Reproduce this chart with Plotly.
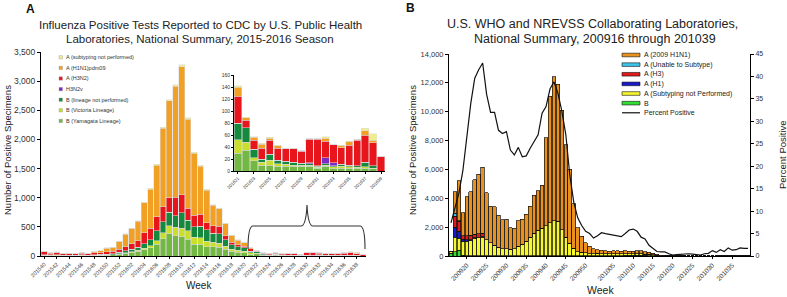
import plotly.graph_objects as go

W, H = 787, 297
def px(x): return x / W
def py(y): return 1 - y / H

FONT = "Liberation Sans, Arial, sans-serif"

# ---------------- Panel A data ----------------
weeks_a = ["201540","201541","201542","201543","201544","201545","201546","201547","201548","201549",
           "201550","201551","201552","201601","201602","201603","201604","201605","201606","201607",
           "201608","201609","201610","201611","201612","201613","201614","201615","201616","201617",
           "201618","201619","201620","201621","201622","201623","201624","201625","201626","201627",
           "201628","201629","201630","201631","201632","201633","201634","201635","201636","201637",
           "201638","201639"]

yamagata = [10,8,8,6,6,7,8,7,10,12,15,18,30,45,60,80,110,140,200,300,380,350,330,290,200,200,160,160,150,120,80,65,55,
            30,35,17,10,10,8,8,8,8,8,5,8,5,5,5,5,5,4,0]
victoria = [3,2,2,2,2,2,2,2,3,3,4,5,8,10,12,15,25,35,60,100,140,140,150,140,120,110,90,80,70,50,35,30,30,
            22,13,5,5,8,4,3,2,2,2,1,2,2,3,2,1,2,1,0]
b_lineage_np = [12,8,10,6,7,8,8,8,10,12,15,17,25,35,45,55,75,100,170,190,230,200,260,180,180,200,200,150,160,110,80,65,55,
                28,24,14,5,10,6,5,5,3,2,2,2,2,3,3,3,8,4,0]
h3n2v = [0,0,0,0,0,0,0,0,0,0,0,0,0,0,0,0,0,0,0,0,0,0,0,0,0,0,0,0,0,0,0,0,0,
         0,0,0,0,0,0,0,0,0,2,1,10,5,0,0,0,0,0,0]
a_h3n2 = [45,30,40,24,23,25,27,23,32,33,40,40,55,70,90,110,190,200,240,255,250,320,310,210,200,210,120,130,130,70,45,35,30,
          45,13,15,18,23,20,21,22,20,39,44,28,30,28,33,42,45,38,25]
a_h1n1pdm09 = [8,6,8,6,6,7,9,9,18,28,63,67,133,215,268,340,510,670,885,1345,1660,1900,2200,1525,1060,820,560,350,300,200,115,75,55,
               15,4,5,7,4,4,1,1,1,1,1,5,0,4,7,2,7,4,0]
a_subtyping_np = [2,1,2,1,1,1,1,1,2,2,3,3,4,5,5,5,10,15,20,20,25,30,35,25,20,20,13,10,10,10,5,5,5,
                  2,1,1,1,1,1,0,0,0,0,0,2,0,0,0,0,4,11,0]

y_ticks_a = [0, 500, 1000, 1500, 2000, 2500, 3000, 3500]
y_ticks_inset = [0, 20, 40, 60, 80, 100, 120, 140, 160]
inset_first_week = "201621"

# ---------------- Panel B data ----------------
weeks_b = ["200916","200917","200918","200919","200920","200921","200922","200923","200924","200925",
           "200926","200927","200928","200929","200930","200931","200932","200933","200934","200935",
           "200936","200937","200938","200939","200940","200941","200942","200943","200944","200945",
           "200946","200947","200948","200949","200950","200951","200952",
           "201001","201002","201003","201004","201005","201006","201007","201008","201009","201010",
           "201011","201012","201013","201014","201015","201016","201017","201018","201019","201020",
           "201021","201022","201023","201024","201025","201026","201027","201028","201029","201030",
           "201031","201032","201033","201034","201035","201036","201037","201038","201039"]
tick_weeks_b = ["200920","200925","200930","200935","200940","200945","200950",
                "201005","201010","201015","201020","201025","201030","201035"]

b_all = [200,300,400,50,30,20,20,10,10,10,10,10,10,10,10,10,10,10,10,10,10,10,10,10,10,10,10,10,10,10,10,10,10,10,10,10,10,
         30,30,30,30,30,30,30,40,40,40,50,50,40,30,20,10,10,5,3,2,2,1,1,1,1,1,1,2,2,2,2,2,2,3,3,3,3,3,3]
a_subtyping_np_b = [100,1000,800,950,1000,1050,1200,1250,1300,1100,900,750,600,500,480,450,500,650,800,1000,1300,1550,1770,1900,
                    2100,2300,2450,2400,1800,1300,860,520,300,250,200,150,130,
                    150,130,110,110,120,110,110,110,100,100,110,110,90,80,60,40,20,10,5,3,2,2,2,2,2,2,2,2,2,3,3,3,3,4,4,4,4,4,4]
a_h1 = [0,700,500,150,100,50,30,20,10] + [0]*67
a_h3 = [0,750,700,250,270,330,250,250,250] + [0]*67
a_unable = [0,200,50] + [0]*73
a_2009h1n1 = [0,1500,2750,1600,2700,3000,3800,4150,4580,3290,2550,2650,2200,2000,2070,1500,1400,1800,1750,1900,2150,2650,
              2730,3000,6100,8750,9950,9500,8300,6400,5140,3080,1650,1100,700,500,370,
              270,240,210,200,210,210,200,200,180,190,210,200,180,150,100,60,30,15,7,3,2,2,2,2,2,2,2,2,2,3,3,3,3,3,3,3,3,3,3]
percent_positive = [7.4,11,14,19,27,34,39.6,41.5,43,36,32,32,28,27.3,27.7,23.6,22.5,24.2,22.1,22.3,24,25.5,27,31.8,33.3,
                    37.2,38.8,36.3,32.2,27,18,12,8.5,6.8,5.5,5,4,
                    4.5,5.2,5,4.8,4.6,4.4,4.3,5,5.8,6,5.5,4.2,3.8,2.4,1.6,1,0.9,0.9,0.5,0.2,0.3,0.4,0.5,0.5,0.4,0.3,
                    0.2,0.5,0.6,1.2,0.8,1.4,1.0,1.8,1.3,1.4,1.8,1.7,1.7]

# ---------------- Figure ----------------
fig = go.Figure()

series_a = [
    ("B (Yamagata Lineage)", yamagata, "#74B844"),
    ("B (Victoria Lineage)", victoria, "#C9DF2B"),
    ("B (lineage not performed)", b_lineage_np, "#15893D"),
    ("H3N2v", h3n2v, "#7A2CC4"),
    ("A (H3N2)", a_h3n2, "#E8161C"),
    ("A (H1N1)pdm09", a_h1n1pdm09, "#F2A024"),
    ("A (subtyping not performed)", a_subtyping_np, "#EEEE8E"),
]
i0 = weeks_a.index(inset_first_week)
for name, vals, col in series_a:
    fig.add_trace(go.Bar(x=weeks_a, y=vals, name=name, showlegend=False,
                         marker=dict(color=col, line=dict(color="#dcdcdc", width=0.5)),
                         xaxis="x", yaxis="y"))
    fig.add_trace(go.Bar(x=weeks_a[i0:], y=vals[i0:], name=name, showlegend=False,
                         marker=dict(color=col, line=dict(color="#dcdcdc", width=0.5)),
                         xaxis="x2", yaxis="y2"))

series_b = [
    ("B", b_all, "#33DD33"),
    ("A (Subtyping not Performed)", a_subtyping_np_b, "#F7F72E"),
    ("A (H1)", a_h1, "#1818C8"),
    ("A (H3)", a_h3, "#E01B1B"),
    ("A (Unable to Subtype)", a_unable, "#3EC5EE"),
    ("A (2009 H1N1)", a_2009h1n1, "#E8911E"),
]
for name, vals, col in series_b:
    fig.add_trace(go.Bar(x=weeks_b, y=vals, name=name, showlegend=False,
                         marker=dict(color=col, line=dict(color="#111111", width=0.7)),
                         xaxis="x3", yaxis="y3"))
fig.add_trace(go.Scatter(x=weeks_b, y=percent_positive, name="Percent Positive", mode="lines",
                         line=dict(color="#111111", width=1.2), showlegend=False,
                         xaxis="x3", yaxis="y4"))

axis_common = dict(showgrid=False, zeroline=False, showline=True, linecolor="#000", linewidth=1,
                   ticks="outside", tickcolor="#000", fixedrange=True, automargin=False)

fig.update_layout(
    width=W, height=H, autosize=False,
    margin=dict(l=0, r=0, t=0, b=0, pad=0),
    paper_bgcolor="white", plot_bgcolor="white",
    barmode="stack", bargap=0.08,
    font=dict(family=FONT, color="#222"),
    hovermode=False,
    xaxis=dict(axis_common, domain=[px(41), px(366)], anchor="y", type="category",
               categoryorder="array", categoryarray=weeks_a, range=[-0.5, len(weeks_a) - 0.5],
               tickmode="array", tickvals=weeks_a[::2], tickangle=-45, ticklen=2,
               tickfont=dict(size=5.5, color="#333")),
    yaxis=dict(axis_common, domain=[py(256), py(52)], anchor="x", range=[0, 3500],
               tickmode="array", tickvals=y_ticks_a, tickformat=",d", ticklen=3,
               tickfont=dict(size=8.5, color="#333")),
    xaxis2=dict(axis_common, domain=[px(234), px(385)], anchor="y2", type="category",
                categoryorder="array", categoryarray=weeks_a[i0:], range=[-0.5, len(weeks_a) - i0 - 0.5],
                tickmode="array", tickvals=weeks_a[i0::2], tickangle=-45, ticklen=2,
                tickfont=dict(size=4.5, color="#333")),
    yaxis2=dict(axis_common, domain=[py(171), py(75)], anchor="x2", range=[0, 160],
                tickmode="array", tickvals=y_ticks_inset, ticklen=2,
                tickfont=dict(size=5, color="#333")),
    xaxis3=dict(axis_common, domain=[px(449), px(750)], anchor="y3", type="category",
                categoryorder="array", categoryarray=weeks_b, range=[-0.5, len(weeks_b) - 0.5],
                tickmode="array", tickvals=tick_weeks_b, tickangle=-45, ticklen=2,
                tickfont=dict(size=6.5, color="#333")),
    yaxis3=dict(axis_common, domain=[py(256), py(54)], anchor="x3", range=[0, 14000],
                dtick=2000, tickformat=",d", ticklen=3, tickfont=dict(size=7.5, color="#333")),
    yaxis4=dict(axis_common, overlaying="y3", anchor="x3", side="right", range=[0, 45],
                dtick=5, ticklen=3, tickfont=dict(size=7, color="#333")),
)

ann = []
def txt(x, y, s, size, xanchor="center", color="#222", **kw):
    d = dict(x=px(x), y=py(y), xref="paper", yref="paper", text=s, showarrow=False,
             xanchor=xanchor, yanchor="middle",
             font=dict(size=size, family=FONT, color=color))
    d.update(kw)
    ann.append(d)

txt(30, 9, "<b>A</b>", 12, color="#111")
txt(200, 25, "Influenza Positive Tests Reported to CDC by U.S. Public Health", 11.5)
txt(200, 39, "Laboratories, National Summary, 2015-2016 Season", 11.5)
txt(7, 150, "Number of Positive Specimens", 9.5, textangle=-90)
txt(199, 285, "Week", 10)

txt(410, 8, "<b>B</b>", 12, color="#111")
txt(592, 24, "U.S. WHO and NREVSS Collaborating Laboratories,", 12.5)
txt(595, 39, "National Summary, 200916 through 201039", 12.5)
txt(412, 150, "Number of Positive Specimens", 9.5, textangle=-90)
txt(782, 155, "Percent Positive", 9.5, textangle=-90)
txt(600, 290, "Week", 10.5)

shapes = []
# legend A (manual, compact)
for k, (name, vals, col) in enumerate(reversed(series_a)):
    yc = 57.3 + k * 10.6
    shapes.append(dict(type="rect", xref="paper", yref="paper", x0=px(59), x1=px(62.5),
                       y0=py(yc + 1.7), y1=py(yc - 1.7), fillcolor=col, line=dict(color="#999", width=0.4)))
    txt(63.5, yc, name, 5.5, xanchor="left", color="#333")

# legend B (manual, compact)
legend_b = list(reversed(series_b))
for k, (name, vals, col) in enumerate(legend_b):
    yc = 55 + k * 9.63
    shapes.append(dict(type="rect", xref="paper", yref="paper", x0=px(622), x1=px(640),
                       y0=py(yc + 1.8), y1=py(yc - 1.8), fillcolor=col, line=dict(color="#111", width=0.6)))
    txt(642, yc, name, 7, xanchor="left", color="#222")
yc = 55 + len(legend_b) * 9.63
shapes.append(dict(type="line", xref="paper", yref="paper", x0=px(622), x1=px(640),
                   y0=py(yc), y1=py(yc), line=dict(color="#111", width=1.2)))
txt(642, yc, "Percent Positive", 7, xanchor="left", color="#222")

# curly bracket marking the inset range
def P(x, y): return f"{px(x):.5f},{py(y):.5f}"
bracket = ("M " + P(248, 249) + " Q " + P(248, 226) + " " + P(253, 226) +
           " L " + P(301, 226) + " Q " + P(306, 226) + " " + P(307, 205) +
           " Q " + P(308, 226) + " " + P(313, 226) +
           " L " + P(360, 226) + " Q " + P(365, 226) + " " + P(365, 249))
shapes.append(dict(type="path", xref="paper", yref="paper", path=bracket,
                   line=dict(color="#333", width=1.1)))

fig.update_layout(annotations=ann, shapes=shapes)
fig.write_html("out.html", config={"displayModeBar": False, "staticPlot": True},
               post_script="document.body.style.margin='0px';document.body.style.overflow='hidden';")
